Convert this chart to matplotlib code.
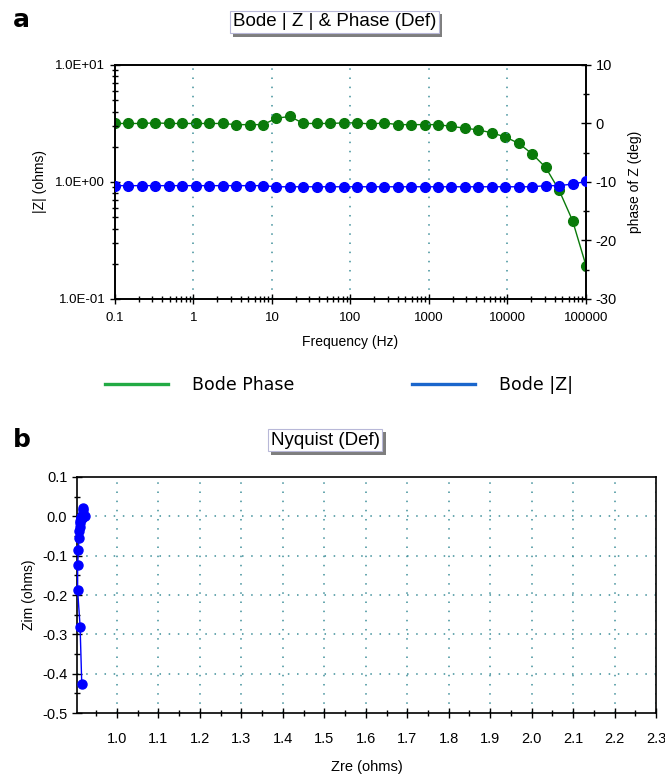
import numpy as np
import matplotlib
matplotlib.use("Agg")
import matplotlib.pyplot as plt
from matplotlib import patheffects
from matplotlib.lines import Line2D
from matplotlib.ticker import FixedLocator, LogLocator, NullFormatter, FuncFormatter

plt.rcParams['font.family'] = ['Liberation Sans Narrow', 'Liberation Sans', 'DejaVu Sans']
plt.rcParams['axes.unicode_minus'] = False

# Bode data (high freq last)
freq_hz = [0.1, 0.1484, 0.2203, 0.3268, 0.485, 0.7197, 1.068, 1.585, 2.352, 3.49,
           5.179, 7.686, 11.41, 16.92, 25.12, 37.28, 55.32, 82.09, 121.8, 180.8,
           268.3, 398.1, 590.8, 876.7, 1301, 1931, 2865, 4252, 6310, 9363,
           13895, 20620, 30600, 45410, 67390, 100000]
z_mod = [0.93, 0.93, 0.93, 0.93, 0.93, 0.93, 0.93, 0.93, 0.93, 0.93,
         0.93, 0.93, 0.91, 0.91, 0.91, 0.91, 0.91, 0.91, 0.91, 0.91,
         0.91, 0.91, 0.91, 0.91, 0.91, 0.91, 0.91, 0.91, 0.91, 0.91,
         0.91, 0.91, 0.93, 0.93, 0.96, 1.01]
phase_deg = [0.0, 0.0, 0.0, 0.1, 0.0, 0.0, 0.0, 0.0, 0.0, -0.2,
             -0.2, -0.2, 0.9, 1.2, 0.0, 0.0, 0.0, 0.1, 0.1, -0.1,
             0.1, -0.2, -0.2, -0.2, -0.2, -0.5, -0.8, -1.1, -1.6, -2.3,
             -3.4, -5.2, -7.5, -11.4, -16.6, -24.3]

# Nyquist data
z_re = [0.915, 0.916, 0.915, 0.917, 0.916, 0.915, 0.916, 0.917, 0.916, 0.915,
        0.914, 0.915, 0.918, 0.917, 0.916, 0.915, 0.916, 0.917, 0.916, 0.915,
        0.922, 0.915, 0.914, 0.913, 0.913, 0.912, 0.911, 0.910, 0.910, 0.909,
        0.908, 0.907, 0.905, 0.905, 0.911, 0.915]
z_im = [0.0, 0.0, 0.0, 0.002, 0.0, 0.0, 0.0, 0.0, 0.0, -0.003,
        -0.003, -0.003, 0.015, 0.020, 0.0, 0.0, 0.0, 0.002, 0.002, -0.002,
        0.002, -0.003, -0.003, -0.003, -0.003, -0.008, -0.013, -0.018, -0.026, -0.037,
        -0.056, -0.086, -0.124, -0.188, -0.281, -0.427]

freq_ticks = [0.1, 1, 10, 100, 1000, 10000, 100000]
freq_labels = ['0.1', '1', '10', '100', '1000', '10000', '100000']
zre_ticks = [1.0, 1.1, 1.2, 1.3, 1.4, 1.5, 1.6, 1.7, 1.8, 1.9, 2.0, 2.1, 2.2, 2.3]
zim_ticks = [0.1, 0.0, -0.1, -0.2, -0.3, -0.4, -0.5]

green = '#0a7a0a'
blue = '#0000ff'
gridc = '#3f8f9a'
tfs = 9.5

fig = plt.figure(figsize=(6.65, 7.78), dpi=100)


def title_box(x, y, s):
    t = fig.text(x, y, s, ha='center', va='center', fontsize=13.5,
                 bbox=dict(boxstyle='square,pad=0.15', fc='white', ec='#b8b8d8', lw=0.8))
    t.get_bbox_patch().set_path_effects([
        patheffects.withSimplePatchShadow(offset=(2.5, -2.5), shadow_rgbFace='#707070', alpha=0.9)])
    return t


def style_ticks(ax):
    ax.tick_params(which='major', direction='inout', length=7, width=1, labelsize=tfs, colors='black')
    ax.tick_params(which='minor', direction='inout', length=4, width=1)
    for sp in ax.spines.values():
        sp.set_linewidth(1.2)


# ---------- a) Bode ----------
ax1 = fig.add_axes([0.1729, 0.6157, 0.7083, 0.3008])
ax1.set_xscale('log')
ax1.set_yscale('log')
ax1.set_xlim(0.1, 100000)
ax1.set_ylim(0.1, 10)
ax1.plot(freq_hz, z_mod, '-o', color=blue, ms=7, lw=1, zorder=3)
ax1.set_xticks(freq_ticks)
ax1.set_xticklabels(freq_labels)
ax1.xaxis.set_minor_locator(LogLocator(base=10, subs=np.arange(2, 10)))
ax1.xaxis.set_minor_formatter(NullFormatter())
ax1.set_yticks([0.1, 1, 10])
ax1.set_yticklabels(['1.0E-01', '1.0E+00', '1.0E+01'])
ax1.yaxis.set_minor_locator(LogLocator(base=10, subs=np.arange(2, 10)))
ax1.yaxis.set_minor_formatter(NullFormatter())
for f in freq_ticks[1:-1]:
    ax1.axvline(f, color=gridc, ls=(0, (1, 5)), lw=1.1, zorder=1)
style_ticks(ax1)
ax1.tick_params(axis='x', pad=6)
ax1.set_xlabel('Frequency (Hz)', fontsize=10, labelpad=8)
ax1.set_ylabel('|Z| (ohms)', fontsize=10, labelpad=6)

ax2 = ax1.twinx()
ax2.set_ylim(-30, 10)
ax2.plot(freq_hz, phase_deg, '-o', color=green, ms=7, lw=1, zorder=2)
ax2.set_yticks([-30, -20, -10, 0, 10])
ax2.yaxis.set_minor_locator(FixedLocator([-25, -15, -5, 5]))
style_ticks(ax2)
ax2.tick_params(axis='y', labelsize=10.5)
ax2.set_ylabel('phase of Z (deg)', fontsize=10, labelpad=8)
ax1.set_zorder(ax2.get_zorder() + 1)
ax1.patch.set_visible(False)

title_box(0.503, 1 - 22 / 778, 'Bode | Z | & Phase (Def)')
fig.text(0.02, 1 - 20 / 778, 'a', fontsize=18, fontweight='bold', family='DejaVu Sans', va='center')

handles = [Line2D([], [], color='#22aa44', lw=2.4), Line2D([], [], color='#1a66cc', lw=2.4)]
fig.legend(handles, ['Bode Phase', 'Bode |Z|'], loc='center', ncol=2, frameon=False,
           bbox_to_anchor=(0.51, 1 - 385 / 778), handlelength=3.6,
           handletextpad=1.4, columnspacing=6.8, prop={'family': 'DejaVu Sans', 'size': 12.5})

# ---------- b) Nyquist ----------
ax3 = fig.add_axes([0.1158, 0.0835, 0.8707, 0.3034])
ax3.set_xlim(0.9035, 2.3)
ax3.set_ylim(-0.5, 0.1)
ax3.plot(z_re, z_im, '-o', color=blue, ms=6.5, lw=1, zorder=3, clip_on=False)
ax3.set_xticks(zre_ticks)
ax3.xaxis.set_minor_locator(FixedLocator([0.95 + 0.1 * i for i in range(14)]))
ax3.set_yticks(zim_ticks)
ax3.yaxis.set_minor_locator(FixedLocator([0.05, -0.05, -0.15, -0.25, -0.35, -0.45]))
ax3.xaxis.set_major_formatter(FuncFormatter(lambda v, p: f'{v:.1f}'))
ax3.yaxis.set_major_formatter(FuncFormatter(lambda v, p: f'{v:.1f}'))
for xv in zre_ticks:
    ax3.axvline(xv, color=gridc, ls=(0, (1, 5)), lw=1.1, zorder=1)
for yv in zim_ticks[1:-1]:
    ax3.axhline(yv, color=gridc, ls=(0, (1, 5)), lw=1.1, zorder=1)
style_ticks(ax3)
ax3.tick_params(labelsize=10.5)
ax3.tick_params(axis='x', pad=10)
ax3.set_xlabel('Zre (ohms)', fontsize=10.5, labelpad=10)
ax3.set_ylabel('Zim (ohms)', fontsize=10, labelpad=4)

title_box(0.489, 1 - 440 / 778, 'Nyquist (Def)')
fig.text(0.02, 1 - 440 / 778, 'b', fontsize=18, fontweight='bold', family='DejaVu Sans', va='center')

fig.savefig('out.png', dpi=100)
